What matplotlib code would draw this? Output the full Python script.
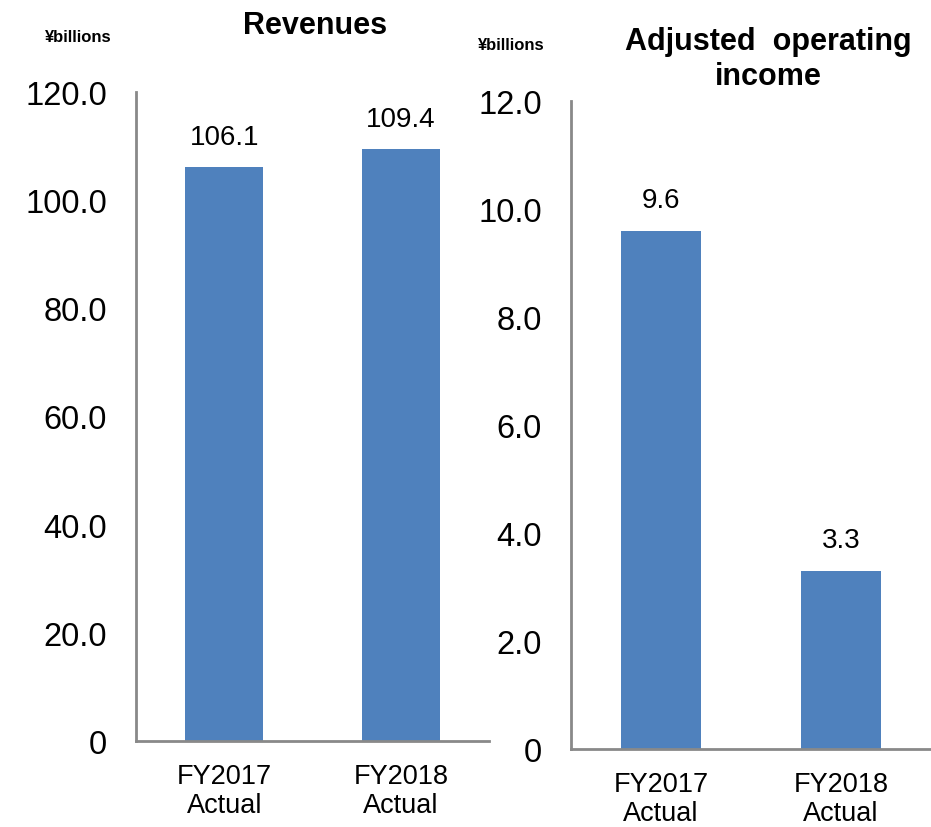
import matplotlib
matplotlib.use('Agg')
import matplotlib.pyplot as plt

plt.rcParams['font.family'] = ['Liberation Sans', 'DejaVu Sans']

categories = ['FY2017\nActual', 'FY2018\nActual']
revenues = [106.1, 109.4]
adj_op_income = [9.6, 3.3]
rev_ticks = [0, 20, 40, 60, 80, 100, 120]
rev_ticklabels = ['0', '20.0', '40.0', '60.0', '80.0', '100.0', '120.0']
inc_ticks = [0, 2, 4, 6, 8, 10, 12]
inc_ticklabels = ['0', '2.0', '4.0', '6.0', '8.0', '10.0', '12.0']

bar_color = '#4F81BD'
spine_color = '#898989'

fig = plt.figure(figsize=(9.31, 8.28), dpi=100)
ax1 = fig.add_axes([0.1461, 0.1039, 0.3792, 0.7838])
ax2 = fig.add_axes([0.6133, 0.0942, 0.3867, 0.7826])


def draw_panel(ax, values, ticks, ticklabels, ymax, fmt):
    x = range(len(values))
    bars = ax.bar(x, values, width=0.44, color=bar_color, zorder=2)
    ax.set_xlim(-0.5, 1.5)
    ax.set_ylim(0, ymax)
    ax.set_yticks(ticks)
    ax.set_yticklabels(ticklabels, fontsize=23.5)
    ax.set_xticks(list(x))
    ax.set_xticklabels(categories, fontsize=19.5, linespacing=1.12)
    ax.tick_params(axis='y', length=0, pad=21)
    ax.tick_params(axis='x', length=0, pad=16)
    for s in ['top', 'right']:
        ax.spines[s].set_visible(False)
    for s in ['left', 'bottom']:
        ax.spines[s].set_color(spine_color)
        ax.spines[s].set_linewidth(2)
    # value labels above bars
    for b, v in zip(bars, values):
        ax.annotate(fmt % v, (b.get_x() + b.get_width() / 2, v),
                    xytext=(0, 12.5), textcoords='offset points',
                    ha='center', va='bottom', fontsize=20)


draw_panel(ax1, revenues, rev_ticks, rev_ticklabels, 120, '%.1f')
draw_panel(ax2, adj_op_income, inc_ticks, inc_ticklabels, 12, '%.1f')

fig.text(315 / 931, 1 - 34 / 828, 'Revenues', ha='center', va='baseline',
         fontsize=22, fontweight='bold')
fig.text(768 / 931, 1 - 85 / 828, 'Adjusted  operating\nincome', ha='center',
         va='baseline', fontsize=22, fontweight='bold', linespacing=1.2,
         multialignment='center')
fig.text(78 / 931, 1 - 37 / 828, '¥billions', ha='center', va='center',
         fontsize=12, fontweight='bold')
fig.text(511 / 931, 1 - 45 / 828, '¥billions', ha='center', va='center',
         fontsize=12, fontweight='bold')

fig.savefig('out.png', dpi=100)
